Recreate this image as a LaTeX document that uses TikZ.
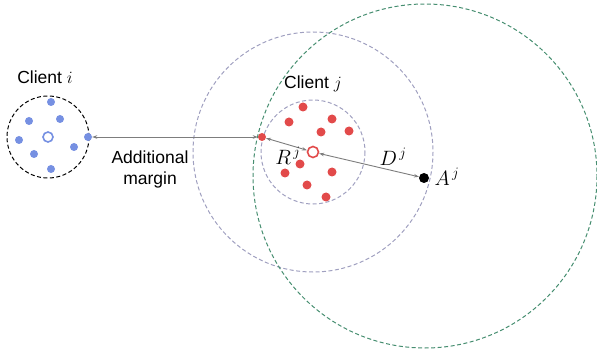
\documentclass[tikz,border=0pt]{standalone}
\usepackage{fontspec}
\setmainfont{Liberation Sans}
\usetikzlibrary{arrows.meta}
\definecolor{bluedot}{RGB}{118,144,226}
\definecolor{reddot}{RGB}{226,74,74}
\definecolor{ringgray}{RGB}{160,160,192}
\definecolor{ringgreen}{RGB}{70,142,112}
\definecolor{arrowgray}{RGB}{125,125,125}
\begin{document}
\begin{tikzpicture}[x=1pt,y=-1pt,
  bdot/.style={circle,fill=bluedot,inner sep=0pt,minimum size=8pt},
  rdot/.style={circle,fill=reddot,inner sep=0pt,minimum size=9pt},
  bhollow/.style={circle,draw=bluedot,fill=white,line width=1.6pt,inner sep=0pt,minimum size=10pt},
  rhollow/.style={circle,draw=reddot,fill=white,line width=1.6pt,inner sep=0pt,minimum size=11pt},
  adot/.style={circle,fill=black,inner sep=0pt,minimum size=10pt},
  ringdash/.style={dash pattern=on 4pt off 2.5pt,line width=1pt},
  marrow/.style={arrowgray,line width=0.9pt,{Stealth[length=5pt,width=3.5pt]}-{Stealth[length=5pt,width=3.5pt]}},
  lbl/.style={font=\fontsize{17.5}{21}\selectfont,inner sep=0pt,align=center},
  mlbl/.style={font=\fontsize{20}{24}\selectfont,inner sep=0pt}
]
\useasboundingbox (0,0) rectangle (597,358);
% centres
\coordinate (ci) at (48,137);
\coordinate (cj) at (313,152);
\coordinate (ca) at (425,176);
% rings
\draw[ringdash,black] (ci) circle (41);
\draw[ringdash,ringgray] (cj) circle (52);
\draw[ringdash,ringgray] (cj) circle (120);
\draw[ringdash,ringgreen] (ca) circle (172);
% client i dots
\node[bdot] (b1) at (51,102) {};
\node[bdot] (b2) at (29,121) {};
\node[bdot] (b3) at (60,119) {};
\node[bdot] (b4) at (19,140) {};
\node[bdot] (bedge) at (88,137) {};
\node[bdot] (b5) at (74,147) {};
\node[bdot] (b6) at (34,154) {};
\node[bdot] (b7) at (51,169) {};
\node[bhollow] (bc) at (48,137) {};
% client j dots
\node[rdot] (r1) at (303,107) {};
\node[rdot] (r2) at (289,122) {};
\node[rdot] (r3) at (332,119) {};
\node[rdot] (r4) at (321,132) {};
\node[rdot] (r5) at (349,131) {};
\node[rdot] (r6) at (300,164) {};
\node[rdot] (r7) at (285,173) {};
\node[rdot] (r8) at (332,172) {};
\node[rdot] (r9) at (307,185) {};
\node[rdot] (r10) at (326,197) {};
\node[rdot,minimum size=8pt] (redge) at (262,137) {};
\node[rhollow] (rc) at (313,152) {};
\node[adot] (aj) at (424,178) {};
% arrows
\draw[marrow] (bedge) -- (redge);
\draw[marrow] (redge) -- (rc);
\draw[marrow] (rc) -- (aj);
% labels
\node[lbl] (li) at (45,77) {Client $i$};
\node[lbl] (lj) at (313,84) {Client $j$};
\node[lbl] (lm) at (150,169) {Additional\\margin};
\node[mlbl] (lr) at (288,156) {$R^{\,j}$};
\node[mlbl] (ld) at (393,157) {$D^{\,j}$};
\node[mlbl] (la) at (447,177) {$A^{\,j}$};
\end{tikzpicture}
\end{document}
